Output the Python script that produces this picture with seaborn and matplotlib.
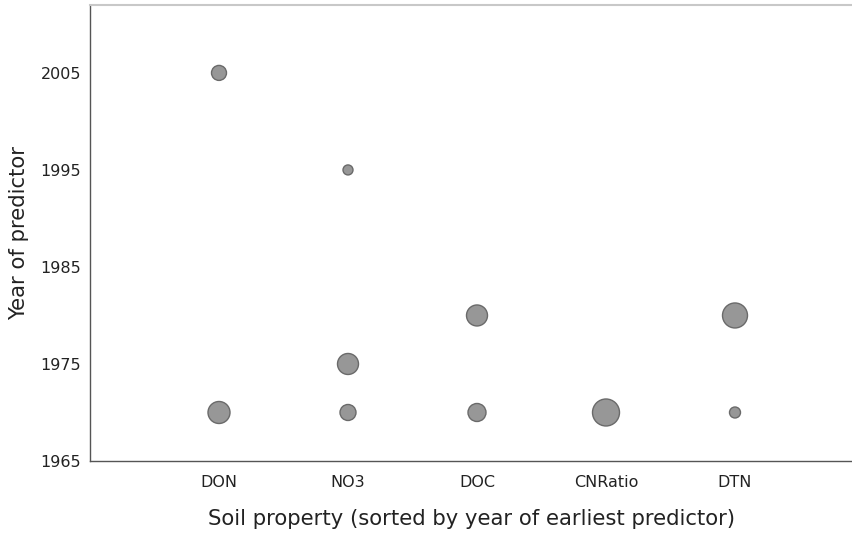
import matplotlib
matplotlib.use("Agg")
import matplotlib.pyplot as plt
import seaborn as sns
import pandas as pd

# Data
properties = ["DON", "DON", "NO3", "NO3", "NO3", "DOC", "DOC", "CNRatio", "DTN", "DTN"]
years = [2005, 1970, 1995, 1975, 1970, 1980, 1970, 1970, 1980, 1970]
weights = [225, 484, 100, 441, 256, 441, 324, 729, 625, 121]
order = ["DON", "NO3", "DOC", "CNRatio", "DTN"]
yticks = [1965, 1975, 1985, 1995, 2005]

df = pd.DataFrame({"prop": properties, "year": years, "w": weights})
df["pos"] = df["prop"].map({k: i for i, k in enumerate(order)})

sns.set_style("white")
plt.rcParams["font.family"] = ["DejaVu Sans"]

fig = plt.figure(figsize=(8.53, 5.35), dpi=100)
ax = fig.add_axes([90 / 853, 74 / 535, (853 - 90) / 853, (461 - 5) / 535])

wmax = max(weights)
smax = (27 * 0.72) ** 2 * 1.0
sns.scatterplot(data=df, x="pos", y="year", size="w", sizes=(0, smax),
                size_norm=(0, wmax), color="#979797", edgecolor="#6a6a6a",
                linewidth=1.0, legend=False, ax=ax)

ax.set_xlim(-1, (853 - 90) / 129 - 1)
ax.set_ylim(1965, 2012)
ax.set_xticks(range(len(order)))
ax.set_xticklabels(order, fontsize=11.5)
ax.set_yticks(yticks)
ax.set_yticklabels([str(y) for y in yticks], fontsize=11.5)
ax.tick_params(axis="x", length=0, pad=10, colors="#222222")
ax.tick_params(axis="y", length=5, width=1, pad=1.5, colors="#222222")
ax.tick_params(axis="y", color="#555555")

for s in ["left", "bottom"]:
    ax.spines[s].set_color("#555555")
    ax.spines[s].set_linewidth(1.0)
ax.spines["top"].set_color("#c8c8c8")
ax.spines["top"].set_linewidth(1.5)
ax.spines["right"].set_visible(False)

ax.set_xlabel("Soil property (sorted by year of earliest predictor)", fontsize=15.2, labelpad=14, color="#222222")
ax.set_ylabel("Year of predictor", fontsize=15.2, labelpad=8, color="#222222")

fig.savefig("out.png", dpi=100)
